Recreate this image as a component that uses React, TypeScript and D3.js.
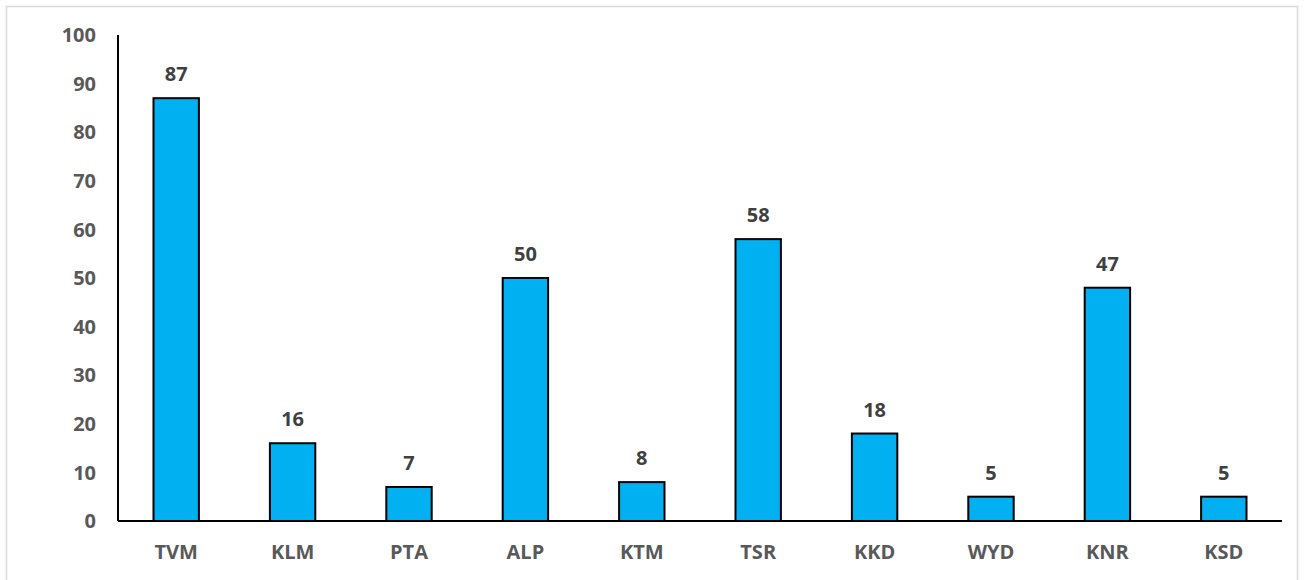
import React from "react";
import * as d3 from "d3";

const categories = ["TVM", "KLM", "PTA", "ALP", "KTM", "TSR", "KKD", "WYD", "KNR", "KSD"];
const values = [87, 16, 7, 50, 8, 58, 18, 5, 48, 5];
const valueLabels = ["87", "16", "7", "50", "8", "58", "18", "5", "47", "5"];
const yTicks = [0, 10, 20, 30, 40, 50, 60, 70, 80, 90, 100];

const W = 1304;
const H = 580;
const left = 118;
const right = 1282;
const top = 35;
const bottom = 521;
const FONT = "'Open Sans', 'Liberation Sans', sans-serif";

export default function App() {
  const x = d3.scaleBand<string>().domain(categories).range([left, right]).paddingInner(0.61).paddingOuter(0.305);
  const y = d3.scaleLinear().domain([0, 100]).range([bottom, top]);
  return (
    <svg width={W} height={H} style={{ position: "absolute", left: 0, top: 0, background: "#fff" }}>
      <rect x={6.5} y={6.5} width={1291} height={H} fill="#fff" stroke="#d9d9d9" strokeWidth={1.5} />
      {yTicks.map((t) => (
        <text key={t} x={96} y={y(t)} dy="0.36em" textAnchor="end" fontFamily={FONT} fontWeight={700} fontSize={20} fill="#595959">
          {t}
        </text>
      ))}
      {categories.map((c, i) => (
        <g key={c}>
          <rect
            x={x(c)!}
            y={y(values[i])}
            width={x.bandwidth()}
            height={bottom - y(values[i])}
            fill="#00B0F0"
            stroke="#000"
            strokeWidth={2}
          />
          <text x={x(c)! + x.bandwidth() / 2} y={y(values[i]) - 17} textAnchor="middle" fontFamily={FONT} fontWeight={700} fontSize={20} fill="#404040">
            {valueLabels[i]}
          </text>
          <text x={x(c)! + x.bandwidth() / 2} y={559} textAnchor="middle" fontFamily={FONT} fontWeight={700} fontSize={20} fill="#595959">
            {c}
          </text>
        </g>
      ))}
      <line x1={left} x2={left} y1={top} y2={bottom} stroke="#000" strokeWidth={2} />
      <line x1={left} x2={right} y1={bottom} y2={bottom} stroke="#000" strokeWidth={2} />
    </svg>
  );
}
